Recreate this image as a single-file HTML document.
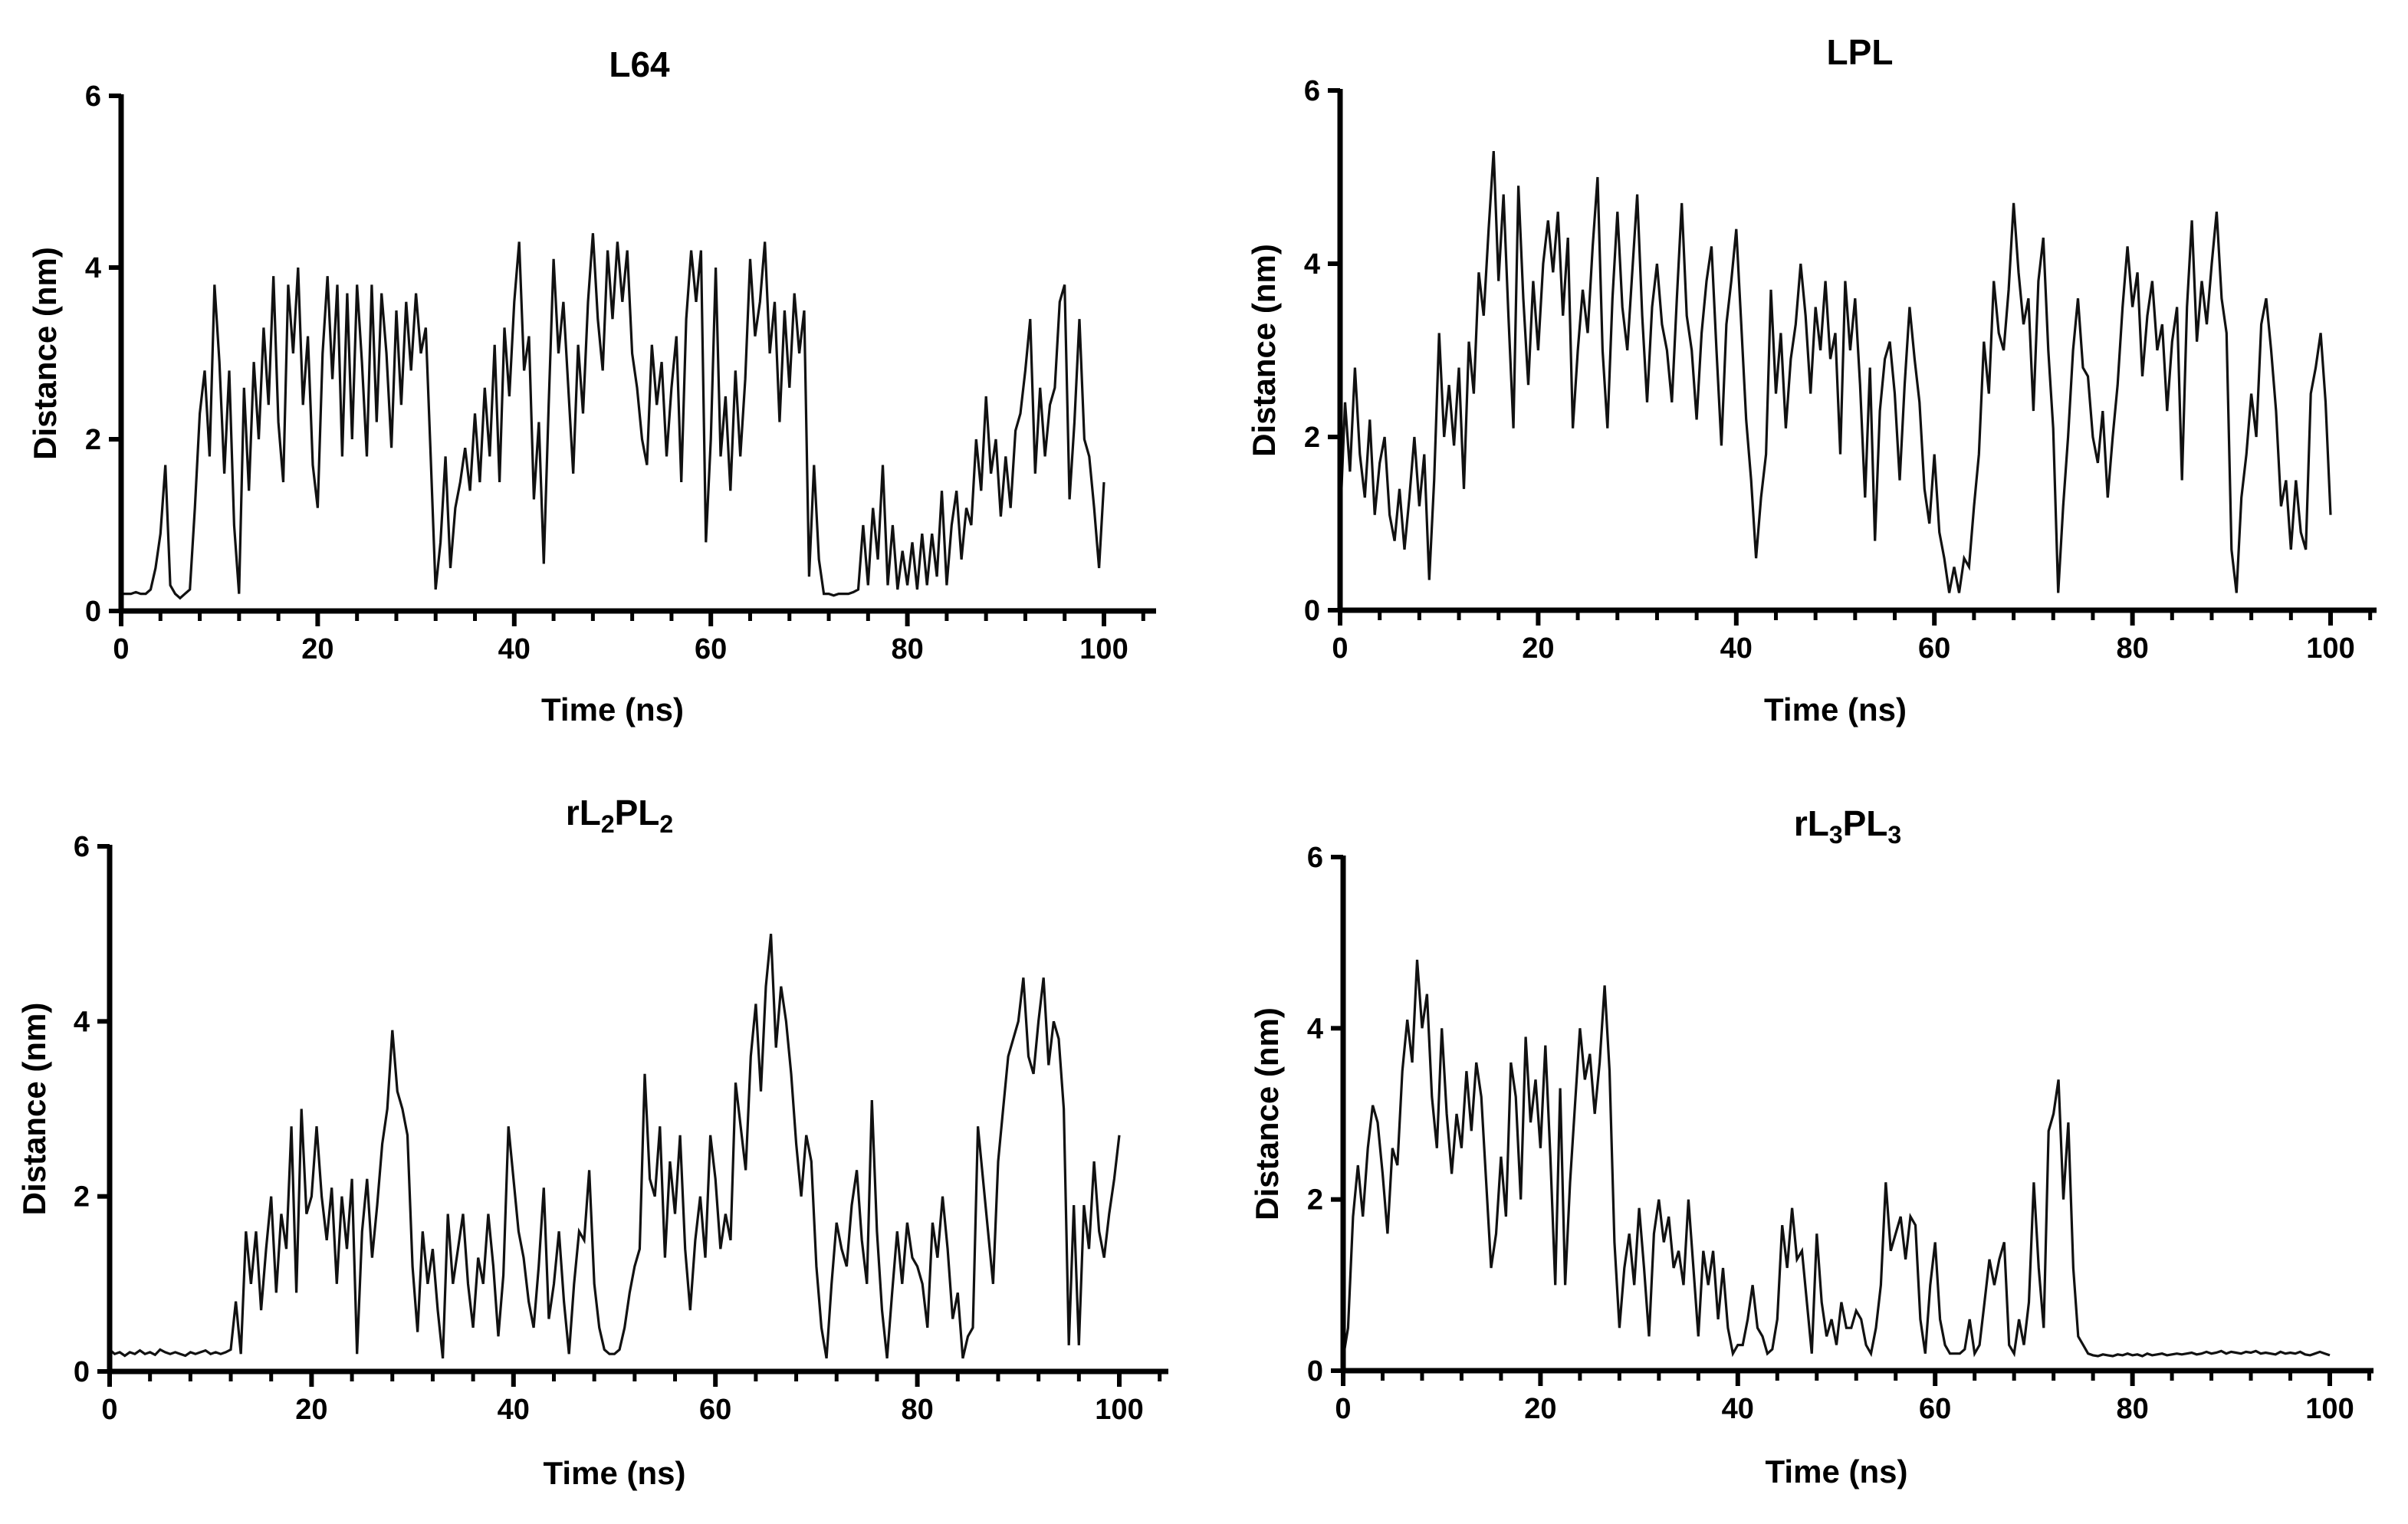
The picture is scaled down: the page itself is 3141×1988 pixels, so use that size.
<!DOCTYPE html>
<html>
<head>
<meta charset="utf-8">
<style>
  html,body{margin:0;padding:0;background:#fff;}
  svg{display:block;font-family:"Liberation Sans",Arial,sans-serif;}
</style>
</head>
<body>
<svg id="fig" xmlns="http://www.w3.org/2000/svg" width="3141" height="1988" viewBox="0 0 3141 1988">
<rect width="3141" height="1988" fill="#fff"/>
</svg>
<script>
// ---- data (distance in nm, sampled every 0.5 ns from 0 to 100 ns) ----
const xTicks = [0, 20, 40, 60, 80, 100];
const yTicks = [0, 2, 4, 6];

const l64Values = [
0.2,0.2,0.2,0.22,0.2,0.2,0.25,0.5,0.9,1.7,
0.3,0.2,0.15,0.2,0.25,1.2,2.3,2.8,1.8,3.8,
2.9,1.6,2.8,1.0,0.2,2.6,1.4,2.9,2.0,3.3,
2.4,3.9,2.2,1.5,3.8,3.0,4.0,2.4,3.2,1.7,
1.2,3.0,3.9,2.7,3.8,1.8,3.7,2.0,3.8,2.9,
1.8,3.8,2.2,3.7,3.0,1.9,3.5,2.4,3.6,2.8,
3.7,3.0,3.3,1.8,0.25,0.8,1.8,0.5,1.2,1.5,
1.9,1.4,2.3,1.5,2.6,1.8,3.1,1.5,3.3,2.5,
3.6,4.3,2.8,3.2,1.3,2.2,0.55,2.4,4.1,3.0,
3.6,2.6,1.6,3.1,2.3,3.6,4.4,3.4,2.8,4.2,
3.4,4.3,3.6,4.2,3.0,2.6,2.0,1.7,3.1,2.4,
2.9,1.8,2.6,3.2,1.5,3.4,4.2,3.6,4.2,0.8,
2.0,4.0,1.8,2.5,1.4,2.8,1.8,2.7,4.1,3.2,
3.6,4.3,3.0,3.6,2.2,3.5,2.6,3.7,3.0,3.5,
0.4,1.7,0.6,0.2,0.2,0.18,0.2,0.2,0.2,0.22,
0.25,1.0,0.3,1.2,0.6,1.7,0.3,1.0,0.25,0.7,
0.3,0.8,0.25,0.9,0.3,0.9,0.4,1.4,0.3,1.0,
1.4,0.6,1.2,1.0,2.0,1.4,2.5,1.6,2.0,1.1,
1.8,1.2,2.1,2.3,2.8,3.4,1.6,2.6,1.8,2.4,
2.6,3.6,3.8,1.3,2.2,3.4,2.0,1.8,1.2,0.5,
1.5];

const lplValues = [
1.0,2.4,1.6,2.8,1.8,1.3,2.2,1.1,1.7,2.0,
1.1,0.8,1.4,0.7,1.3,2.0,1.2,1.8,0.35,1.5,
3.2,2.0,2.6,1.9,2.8,1.4,3.1,2.5,3.9,3.4,
4.4,5.3,3.8,4.8,3.4,2.1,4.9,3.6,2.6,3.8,
3.0,4.0,4.5,3.9,4.6,3.4,4.3,2.1,3.0,3.7,
3.2,4.2,5.0,3.0,2.1,3.6,4.6,3.5,3.0,3.9,
4.8,3.4,2.4,3.5,4.0,3.3,3.0,2.4,3.6,4.7,
3.4,3.0,2.2,3.2,3.8,4.2,3.0,1.9,3.3,3.8,
4.4,3.3,2.2,1.5,0.6,1.3,1.8,3.7,2.5,3.2,
2.1,2.9,3.3,4.0,3.4,2.5,3.5,3.0,3.8,2.9,
3.2,1.8,3.8,3.0,3.6,2.6,1.3,2.8,0.8,2.3,
2.9,3.1,2.5,1.5,2.6,3.5,2.9,2.4,1.4,1.0,
1.8,0.9,0.6,0.2,0.5,0.2,0.6,0.5,1.2,1.8,
3.1,2.5,3.8,3.2,3.0,3.7,4.7,3.9,3.3,3.6,
2.3,3.8,4.3,3.0,2.1,0.2,1.2,2.0,3.0,3.6,
2.8,2.7,2.0,1.7,2.3,1.3,2.0,2.6,3.5,4.2,
3.5,3.9,2.7,3.4,3.8,3.0,3.3,2.3,3.1,3.5,
1.5,3.5,4.5,3.1,3.8,3.3,4.0,4.6,3.6,3.2,
0.7,0.2,1.3,1.8,2.5,2.0,3.3,3.6,3.0,2.3,
1.2,1.5,0.7,1.5,0.9,0.7,2.5,2.8,3.2,2.4,
1.1];

const rl2pl2Values = [
0.25,0.2,0.22,0.18,0.22,0.2,0.24,0.2,0.22,0.19,
0.25,0.22,0.2,0.22,0.2,0.18,0.22,0.2,0.22,0.24,
0.2,0.22,0.2,0.22,0.25,0.8,0.2,1.6,1.0,1.6,
0.7,1.4,2.0,0.9,1.8,1.4,2.8,0.9,3.0,1.8,
2.0,2.8,2.0,1.5,2.1,1.0,2.0,1.4,2.2,0.2,
1.6,2.2,1.3,1.9,2.6,3.0,3.9,3.2,3.0,2.7,
1.2,0.45,1.6,1.0,1.4,0.7,0.15,1.8,1.0,1.4,
1.8,1.0,0.5,1.3,1.0,1.8,1.2,0.4,1.1,2.8,
2.2,1.6,1.3,0.8,0.5,1.2,2.1,0.6,1.0,1.6,
0.8,0.2,1.0,1.6,1.5,2.3,1.0,0.5,0.25,0.2,
0.2,0.25,0.5,0.9,1.2,1.4,3.4,2.2,2.0,2.8,
1.3,2.4,1.8,2.7,1.4,0.7,1.5,2.0,1.3,2.7,
2.2,1.4,1.8,1.5,3.3,2.8,2.3,3.6,4.2,3.2,
4.4,5.0,3.7,4.4,4.0,3.4,2.6,2.0,2.7,2.4,
1.2,0.5,0.15,1.0,1.7,1.4,1.2,1.9,2.3,1.5,
1.0,3.1,1.6,0.7,0.15,0.9,1.6,1.0,1.7,1.3,
1.2,1.0,0.5,1.7,1.3,2.0,1.4,0.6,0.9,0.15,
0.4,0.5,2.8,2.2,1.6,1.0,2.4,3.0,3.6,3.8,
4.0,4.5,3.6,3.4,4.0,4.5,3.5,4.0,3.8,3.0,
0.3,1.9,0.3,1.9,1.4,2.4,1.6,1.3,1.8,2.2,
2.7];

const rl3pl3Values = [
0.15,0.5,1.8,2.4,1.8,2.6,3.1,2.9,2.3,1.6,
2.6,2.4,3.5,4.1,3.6,4.8,4.0,4.4,3.2,2.6,
4.0,3.0,2.3,3.0,2.6,3.5,2.8,3.6,3.2,2.2,
1.2,1.6,2.5,1.8,3.6,3.2,2.0,3.9,2.9,3.4,
2.6,3.8,2.5,1.0,3.3,1.0,2.2,3.1,4.0,3.4,
3.7,3.0,3.6,4.5,3.5,1.5,0.5,1.2,1.6,1.0,
1.9,1.2,0.4,1.6,2.0,1.5,1.8,1.2,1.4,1.0,
2.0,1.2,0.4,1.4,1.0,1.4,0.6,1.2,0.5,0.2,
0.3,0.3,0.6,1.0,0.5,0.4,0.2,0.25,0.6,1.7,
1.2,1.9,1.3,1.4,0.8,0.2,1.6,0.8,0.4,0.6,
0.3,0.8,0.5,0.5,0.7,0.6,0.3,0.2,0.5,1.0,
2.2,1.4,1.6,1.8,1.3,1.8,1.7,0.6,0.2,1.0,
1.5,0.6,0.3,0.2,0.2,0.2,0.25,0.6,0.2,0.3,
0.8,1.3,1.0,1.3,1.5,0.3,0.2,0.6,0.3,0.8,
2.2,1.2,0.5,2.8,3.0,3.4,2.0,2.9,1.2,0.4,
0.3,0.2,0.18,0.17,0.19,0.18,0.17,0.19,0.18,0.2,
0.18,0.19,0.17,0.2,0.18,0.19,0.2,0.18,0.19,0.2,
0.19,0.2,0.21,0.19,0.2,0.22,0.2,0.21,0.23,0.2,
0.22,0.21,0.2,0.22,0.21,0.23,0.2,0.21,0.2,0.19,
0.22,0.2,0.21,0.2,0.22,0.19,0.18,0.2,0.22,0.2,
0.18];

// ---- layout ----
const NS = "http://www.w3.org/2000/svg";
const svg = document.getElementById("fig");
const panels = [
  {name:"l64", title:["L64"], values:l64Values, x0:158, x1:1440, xEnd:1508, y0:797, y6:125, ylabX:62, titleX:834, titleY:100, xtitleY:940},
  {name:"lpl", title:["LPL"], values:lplValues, x0:1748, x1:3040, xEnd:3100, y0:796, y6:118, ylabX:1652, titleX:2426, titleY:84, xtitleY:940},
  {name:"rl2pl2", title:["rL","2","PL","2"], values:rl2pl2Values, x0:143, x1:1460, xEnd:1524, y0:1789, y6:1104, ylabX:48, titleX:808, titleY:1076, xtitleY:1936},
  {name:"rl3pl3", title:["rL","3","PL","3"], values:rl3pl3Values, x0:1752, x1:3039, xEnd:3096, y0:1788, y6:1118, ylabX:1656, titleX:2410, titleY:1090, xtitleY:1934}
];

function mk(tag, attrs, parent){
  const e = document.createElementNS(NS, tag);
  for (const k in attrs) e.setAttribute(k, attrs[k]);
  (parent || svg).appendChild(e);
  return e;
}

panels.forEach(p => {
  const g = mk("g", {});
  
  
  const sx = t => p.x0 + (p.x1 - p.x0) * t / 100;
  const sy = v => p.y0 - (p.y0 - p.y6) * v / 6;

  // data line
  const n = p.values.length;
  let d = "";
  p.values.forEach((v, i) => {
    const t = i * 100 / (n - 1);
    d += (i ? "L" : "M") + sx(t).toFixed(1) + " " + sy(v).toFixed(1);
  });
  const line = mk("path", {d:d, fill:"none", stroke:"#111", "stroke-width":"3.2", "stroke-linejoin":"miter"}, g);
  
  

  // axes
  const yax = mk("line", {x1:p.x0, y1:sy(6)-2, x2:p.x0, y2:p.y0+3, stroke:"#000", "stroke-width":"7"}, g);
  
  
  const xax = mk("line", {x1:p.x0-3, y1:p.y0, x2:p.xEnd, y2:p.y0, stroke:"#000", "stroke-width":"7"}, g);
  
  

  // x ticks (major every 20, minor every 4)
  const tStep = (p.x1 - p.x0) / 100;
  for (let t = 0; p.x0 + t * tStep <= p.xEnd + 1; t += 4) {
    const major = t % 20 === 0 && t <= 100;
    const tk = mk("line", {x1:sx(t), y1:p.y0, x2:sx(t), y2:p.y0 + (major ? 20 : 13), stroke:"#000", "stroke-width": major ? "6" : "5"}, g);
    
    
  }
  xTicks.forEach(t => {
    const lb = mk("text", {x:sx(t), y:p.y0 + 62, "text-anchor":"middle", "font-size":"38", "font-weight":"bold", fill:"#000"}, g);
    lb.textContent = t;
    
    
  });
  yTicks.forEach(v => {
    const tk = mk("line", {x1:p.x0 - 16, y1:sy(v), x2:p.x0, y2:sy(v), stroke:"#000", "stroke-width":"6"}, g);
    
    
    const lb = mk("text", {x:p.x0 - 26, y:sy(v) + 13, "text-anchor":"end", "font-size":"38", "font-weight":"bold", fill:"#000"}, g);
    lb.textContent = v;
    
    
  });

  // axis titles
  const xt = mk("text", {x:(p.x0 + p.x1) / 2, y:p.xtitleY, "text-anchor":"middle", "font-size":"42", "font-weight":"bold", fill:"#000"}, g);
  xt.textContent = "Time (ns)";
  
  
  const cy = (p.y0 + p.y6) / 2;
  const yt = mk("text", {x:p.ylabX, y:cy, "text-anchor":"middle", "font-size":"42", "font-weight":"bold", fill:"#000", transform:"rotate(-90 " + (p.ylabX) + " " + cy + ")", "dominant-baseline":"middle"}, g);
  yt.textContent = "Distance (nm)";
  
  

  // chart title
  const tt = mk("text", {x:p.titleX, y:p.titleY, "text-anchor":"middle", "font-size":"46", "font-weight":"bold", fill:"#000"}, g);
  
  
  p.title.forEach((s, i) => {
    const sp = document.createElementNS(NS, "tspan");
    sp.textContent = s;
    if (i % 2 === 1) { sp.setAttribute("font-size", "32"); sp.setAttribute("dy", "10"); }
    else if (i > 0) { sp.setAttribute("dy", "-10"); }
    tt.appendChild(sp);
  });
});
</script>
</body>
</html>
